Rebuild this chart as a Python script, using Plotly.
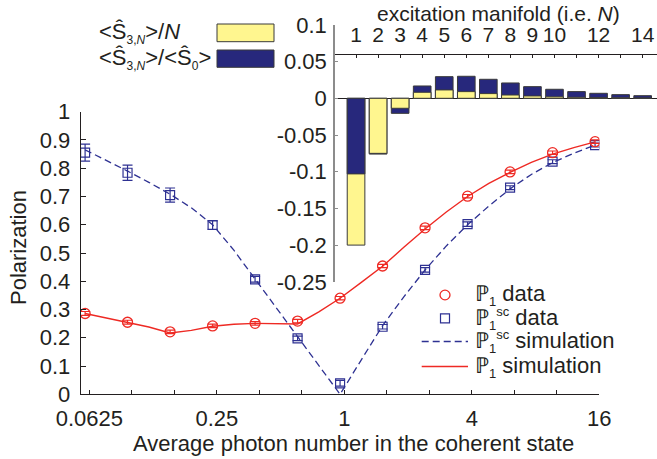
import plotly.graph_objects as go

# ---------------- data ----------------
# main plot: average photon number (coherent state)
x_data = [0.0597, 0.0947, 0.1504, 0.2388, 0.3790, 0.6016, 0.955, 1.516, 2.406, 3.820, 6.064, 9.626, 15.28]
p1_data = [0.286, 0.255, 0.221, 0.242, 0.251, 0.259, 0.340, 0.454, 0.589, 0.701, 0.787, 0.855, 0.894]
p1_err = [0.007, 0.007, 0.006, 0.006, 0.006, 0.006, 0.006, 0.006, 0.006, 0.006, 0.006, 0.006, 0.006]
p1sc_data = [0.855, 0.784, 0.705, 0.599, 0.407, 0.198, 0.039, 0.239, 0.440, 0.602, 0.731, 0.823, 0.882]
p1sc_err = [0.030, 0.027, 0.025, 0.015, 0.010, 0.008, 0.010, 0.008, 0.008, 0.008, 0.007, 0.007, 0.007]

sim_x = [0.0597, 0.0752, 0.0947, 0.1194, 0.1504, 0.1895, 0.2388, 0.3008, 0.3790, 0.4775,
         0.6016, 0.7580, 0.955, 1.2032, 1.516, 1.910, 2.406, 3.032, 3.820, 4.813,
         6.064, 7.640, 9.626, 12.128, 15.28]
p1_sim = [0.286, 0.270, 0.255, 0.238, 0.217, 0.226, 0.241, 0.248, 0.251, 0.251,
          0.249, 0.292, 0.340, 0.396, 0.453, 0.520, 0.585, 0.645, 0.700, 0.746,
          0.785, 0.821, 0.850, 0.873, 0.893]
p1sc_sim = [0.865, 0.828, 0.790, 0.750, 0.708, 0.660, 0.600, 0.510, 0.408, 0.305,
            0.200, 0.100, 0.000, 0.122, 0.243, 0.345, 0.440, 0.525, 0.600, 0.666,
            0.727, 0.778, 0.820, 0.853, 0.882]

x_tickvals = [0.0625, 0.0992126, 0.15749, 0.25, 0.39685, 0.62996, 1, 1.5874, 2.51984, 4, 6.3496, 10.0794, 16]
x_ticktext = ["0.0625", "", "", "0.25", "", "", "1", "", "", "4", "", "", "16"]
y_tickvals = [0, 0.1, 0.2, 0.3, 0.4, 0.5, 0.6, 0.7, 0.8, 0.9, 1]
y_ticktext = ["0", "0.1", "0.2", "0.3", "0.4", "0.5", "0.6", "0.7", "0.8", "0.9", "1"]

# inset: excitation manifold N
manifold_n = [1, 2, 3, 4, 5, 6, 7, 8, 9, 10, 11, 12, 13, 14]
s3n_over_n = [-0.200, -0.075, -0.0136, 0.0082, 0.0114, 0.0091, 0.0064, 0.0045, 0.0032, 0.0020, 0.0014, 0.0010, 0.0007, 0.0005]
s3n_over_s0 = [-0.103, -0.076, -0.0205, 0.0168, 0.0295, 0.0300, 0.0259, 0.0209, 0.0159, 0.0123, 0.0091, 0.0068, 0.0050, 0.0036]
inset_xticktext = ["1", "2", "3", "4", "5", "6", "7", "8", "9", "10", "", "12", "", "14"]
inset_ytickvals = [-0.25, -0.2, -0.15, -0.1, -0.05, 0, 0.05, 0.1]
inset_yticktext = ["-0.25", "-0.2", "-0.15", "-0.1", "-0.05", "0", "0.05", "0.1"]

# ---------------- style ----------------
W, H = 657, 459
FONT = "Liberation Sans, Arial, sans-serif"
FS = 22
FS_INSET = 21
TXT = "#231F20"
RED = "#EE2A24"
NAVY = "#2E3192"
YELLOW = "#FFF68F"
BARNAVY = "#27287C"


def px(x):
    return x / W


def py(y):
    return 1 - y / H


def small(t, size=12):
    return "<span style='font-size:%dpx'>%s</span>" % (size, t)


fig = go.Figure()

# inset bars (overlaid, smaller magnitude in front)
back_v, back_c, front_v, front_c = [], [], [], []
for a, b in zip(s3n_over_n, s3n_over_s0):
    if abs(a) >= abs(b):
        back_v.append(a); back_c.append(YELLOW); front_v.append(b); front_c.append(BARNAVY)
    else:
        back_v.append(b); back_c.append(BARNAVY); front_v.append(a); front_c.append(YELLOW)

for vals, cols in ((back_v, back_c), (front_v, front_c)):
    fig.add_trace(go.Bar(x=manifold_n, y=vals, width=0.8, xaxis="x2", yaxis="y2",
                         marker=dict(color=cols, line=dict(color="#3a3a3a", width=1)),
                         showlegend=False, hoverinfo="x+y"))

# simulations
fig.add_trace(go.Scatter(x=sim_x, y=p1sc_sim, mode="lines", name="P1sc simulation",
                         line=dict(color=NAVY, width=1.3, dash="7px,4px"), showlegend=False))
fig.add_trace(go.Scatter(x=sim_x, y=p1_sim, mode="lines", name="P1 simulation",
                         line=dict(color=RED, width=1.4), showlegend=False))
# data
fig.add_trace(go.Scatter(x=x_data, y=p1sc_data, mode="markers", name="P1sc data",
                         marker=dict(symbol="square-open", size=9, color=NAVY, line=dict(width=1.2)),
                         error_y=dict(type="data", array=p1sc_err, color=NAVY, thickness=1.2, width=5),
                         showlegend=False))
fig.add_trace(go.Scatter(x=x_data, y=p1_data, mode="markers", name="P1 data",
                         marker=dict(symbol="circle-open", size=10, color=RED, line=dict(width=1.3)),
                         error_y=dict(type="data", array=p1_err, color=RED, thickness=1.2, width=5),
                         showlegend=False))

shapes = []
annotations = []

# main legend (bottom right)
shapes.append(dict(type="circle", xref="paper", yref="paper", x0=px(440), x1=px(450), y0=py(299.8), y1=py(290.2),
                   line=dict(color=RED, width=1.3)))
shapes.append(dict(type="rect", xref="paper", yref="paper", x0=px(440.5), x1=px(449.5), y0=py(322.8), y1=py(313.8),
                   line=dict(color=NAVY, width=1.2)))
shapes.append(dict(type="line", xref="paper", yref="paper", x0=px(421.7), x1=px(468), y0=py(341.5), y1=py(341.5),
                   line=dict(color=NAVY, width=1.3, dash="7px,4px")))
shapes.append(dict(type="line", xref="paper", yref="paper", x0=px(421.7), x1=px(468), y0=py(366.5), y1=py(366.5),
                   line=dict(color=RED, width=1.4)))
P1 = "ℙ<sub>" + small("1", 13) + "</sub>"
P1SC = "ℙ<sub>" + small("1", 13) + "</sub><sup>" + small("sc", 13) + "</sup>"
leg_texts = [P1 + " data", P1SC + " data", P1SC + " simulation", P1 + " simulation"]
leg_y = [295, 318.3, 341.5, 366.5]
for t, yy in zip(leg_texts, leg_y):
    annotations.append(dict(text=t, xref="paper", yref="paper", x=px(473), y=py(yy), xanchor="left",
                            yanchor="middle", showarrow=False, font=dict(family=FONT, size=FS, color=TXT)))

# bar legend (top left)
shapes.append(dict(type="rect", xref="paper", yref="paper", x0=px(217), x1=px(274), y0=py(41.7), y1=py(24),
                   fillcolor=YELLOW, line=dict(color="#3a3a3a", width=1)))
shapes.append(dict(type="rect", xref="paper", yref="paper", x0=px(217), x1=px(274), y0=py(67.3), y1=py(50),
                   fillcolor=BARNAVY, line=dict(color="#3a3a3a", width=1)))
S3N = "&lt;Ŝ<sub>" + small("3,<i>N</i>", 12) + "</sub>&gt;"
S0 = "&lt;Ŝ<sub>" + small("0", 12) + "</sub>&gt;"
bar_leg = [S3N + "/<i>N</i>", S3N + "/" + S0]
for t, yy in zip(bar_leg, [33, 59]):
    annotations.append(dict(text=t, xref="paper", yref="paper", x=px(97), y=py(yy), xanchor="left",
                            yanchor="middle", showarrow=False, font=dict(family=FONT, size=FS, color=TXT)))

# titles
annotations.append(dict(text="Average photon number in the coherent state", xref="paper", yref="paper",
                        x=px(353.7), y=py(443), xanchor="center", yanchor="middle", showarrow=False,
                        font=dict(family=FONT, size=FS, color=TXT)))
annotations.append(dict(text="Polarization", xref="paper", yref="paper", textangle=-90,
                        x=px(18), y=py(248), xanchor="center", yanchor="middle", showarrow=False,
                        font=dict(family=FONT, size=FS, color=TXT)))
annotations.append(dict(text="excitation manifold (i.e. <i>N</i>)", xref="paper", yref="paper",
                        x=px(498), y=py(14), xanchor="center", yanchor="middle", showarrow=False,
                        font=dict(family=FONT, size=FS_INSET, color=TXT)))

tickfont = dict(family=FONT, size=FS, color=TXT)
tickfont_inset = dict(family=FONT, size=FS_INSET, color=TXT)

fig.update_layout(
    width=W, height=H, margin=dict(l=0, r=0, t=0, b=0),
    paper_bgcolor="white", plot_bgcolor="rgba(0,0,0,0)",
    barmode="overlay", showlegend=False,
    font=dict(family=FONT, size=FS, color=TXT),
    xaxis=dict(type="log", range=[-1.2448, 1.2041], domain=[px(80.7), px(599.3)], anchor="y",
               showline=True, linecolor=TXT, linewidth=1, ticks="inside", ticklen=4, tickcolor=TXT,
               tickvals=x_tickvals, ticktext=x_ticktext, tickfont=tickfont, showgrid=False,
               zeroline=False, automargin=False, ticklabelstandoff=4),
    yaxis=dict(range=[0, 1], domain=[py(394.3), py(111.7)], anchor="x",
               showline=True, linecolor=TXT, linewidth=1, ticks="inside", ticklen=5, tickcolor=TXT,
               tickvals=y_tickvals, ticktext=y_ticktext, tickfont=tickfont, showgrid=False,
               zeroline=False, automargin=False, ticklabelstandoff=5),
    xaxis2=dict(range=[0, 14.65], domain=[px(334), 1], anchor="free", position=py(54), side="top",
                showline=True, linecolor=TXT, linewidth=1, ticks="inside", ticklen=3, tickcolor=TXT,
                tickvals=manifold_n, ticktext=inset_xticktext, tickfont=tickfont_inset, showgrid=False,
                zeroline=False, automargin=False, ticklabelstandoff=4),
    yaxis2=dict(range=[-0.25, 0.1], domain=[py(281.8), py(24.9)], anchor="free", position=px(334), side="left",
                showline=True, linecolor="#8c8c8c", linewidth=1.6, ticks="inside", ticklen=3, tickcolor="#8c8c8c",
                tickvals=inset_ytickvals, ticktext=inset_yticktext, tickfont=tickfont, showgrid=False,
                zeroline=True, zerolinecolor=TXT, zerolinewidth=1.2, automargin=False, ticklabelstandoff=2),
    shapes=shapes, annotations=annotations,
)

fig.write_html("out.html")
